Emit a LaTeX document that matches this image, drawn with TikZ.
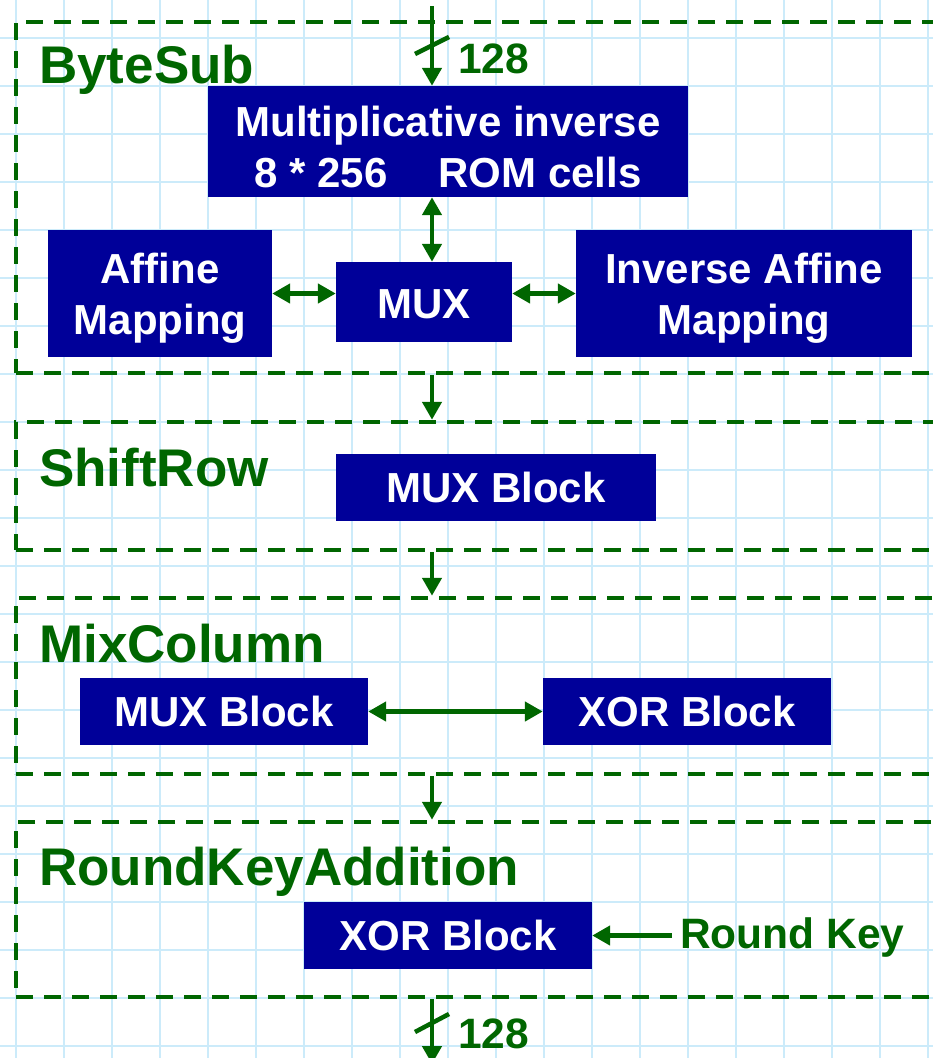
\documentclass[tikz,border=0pt]{standalone}
\usepackage{fontspec}
\setmainfont{Liberation Sans}
\usetikzlibrary{arrows.meta,calc}
\definecolor{dgreen}{HTML}{006600}
\definecolor{dblue}{HTML}{000099}
\definecolor{gridblue}{HTML}{CCEBFA}
\begin{document}
\begin{tikzpicture}[x=1pt,y=-1pt,
  blk/.style={fill=dblue, text=white, font=\fontsize{42}{51}\selectfont\bfseries,
    align=center, inner sep=0pt, text depth=0pt},
  boxtxt/.style={text=white, font=\fontsize{42}{51}\selectfont\bfseries,
    align=center, inner sep=0pt, text depth=0pt},
  sec/.style={draw=dgreen, line width=4.5pt, dash pattern=on 17pt off 11pt, inner sep=0pt},
  seclbl/.style={text=dgreen, font=\fontsize{53}{60}\selectfont\bfseries, anchor=base west, inner sep=0pt},
  glbl/.style={text=dgreen, font=\fontsize{42.5}{50}\selectfont\bfseries, anchor=base west, inner sep=0pt},
  arr/.style={draw=dgreen, line width=4.5pt, -{Triangle[length=18pt,width=19pt]}},
  darr/.style={draw=dgreen, line width=4.5pt, {Triangle[length=18pt,width=19pt]}-{Triangle[length=18pt,width=19pt]}},
  slash/.style={draw=dgreen, line width=4.5pt}
]
\useasboundingbox (0,0) rectangle (933,1058);
\clip (0,0) rectangle (933,1058);
\fill[white] (0,0) rectangle (933,1058);
% grid
\foreach \gx in {16,64,...,928} \draw[gridblue, line width=2.5pt] (\gx,0) -- (\gx,1058);
\foreach \gy in {38,86,...,1046} \draw[gridblue, line width=2.5pt] (0,\gy) -- (933,\gy);

% section frames
\node[sec, minimum width=944pt, minimum height=351pt] (s1) at (488,197.5) {};
\node[sec, minimum width=944pt, minimum height=128pt] (s2) at (488,486) {};
\node[sec, minimum width=944pt, minimum height=176pt] (s3) at (488,686) {};
\node[sec, minimum width=944pt, minimum height=175pt] (s4) at (488,909.5) {};

% section labels
\node[seclbl] (l1) at (39,83) {ByteSub};
\node[seclbl] (l2) at (39,486) {ShiftRow};
\node[seclbl] (l3) at (39,662) {MixColumn};
\node[seclbl] (l4) at (39,885) {RoundKeyAddition};

% blocks
\node[blk, minimum width=480pt, minimum height=111pt] (inv) at (448,141.5) {};
\node[boxtxt] (invtxt) at (448,147) {Multiplicative inverse\\8 * 256\hspace{51pt}ROM cells};
\node[blk, minimum width=224pt, minimum height=127pt] (aff) at (160,293.5) {Affine\\Mapping};
\node[blk, minimum width=176pt, minimum height=80pt] (mux) at (424,302) {\raisebox{-4pt}{MUX}};
\node[blk, minimum width=336pt, minimum height=127pt] (iaff) at (744,293.5) {Inverse Affine\\Mapping};
\node[blk, minimum width=320pt, minimum height=67pt] (srmux) at (496,487.5) {MUX Block};
\node[blk, minimum width=288pt, minimum height=67pt] (mcmux) at (224,711.5) {MUX Block};
\node[blk, minimum width=288pt, minimum height=67pt] (mcxor) at (687,711.5) {XOR Block};
\node[blk, minimum width=288pt, minimum height=67pt] (rkxor) at (448,935.5) {XOR Block};

% labels
\node[glbl] (t128) at (458,73) {128};
\node[glbl] (b128) at (458,1048) {128};
\node[glbl] (rk) at (680,948) {Round Key};

% connectors
\coordinate (in) at (432,6);
\coordinate (out) at (432,1064);
\draw[arr] (in) -- (in |- inv.north);
\draw[slash] (415,54) -- (449,37);
\draw[darr] (in |- inv.south) -- (in |- mux.north);
\draw[darr] (aff.east) -- (aff.east -| mux.west);
\draw[darr] (aff.east -| mux.east) -- (aff.east -| iaff.west);
\draw[arr] (in |- s1.south) -- (in |- s2.north);
\draw[arr] (in |- s2.south) -- (in |- s3.north);
\draw[darr] (mcmux.east) -- (mcxor.west);
\draw[arr] (in |- s3.south) -- (in |- s4.north);
\draw[arr] ([xshift=-8pt]rk.west |- rkxor.east) -- (rkxor.east);
\draw[arr] (in |- s4.south) -- (out);
\draw[slash] (415,1032) -- (449,1014);
\end{tikzpicture}
\end{document}
